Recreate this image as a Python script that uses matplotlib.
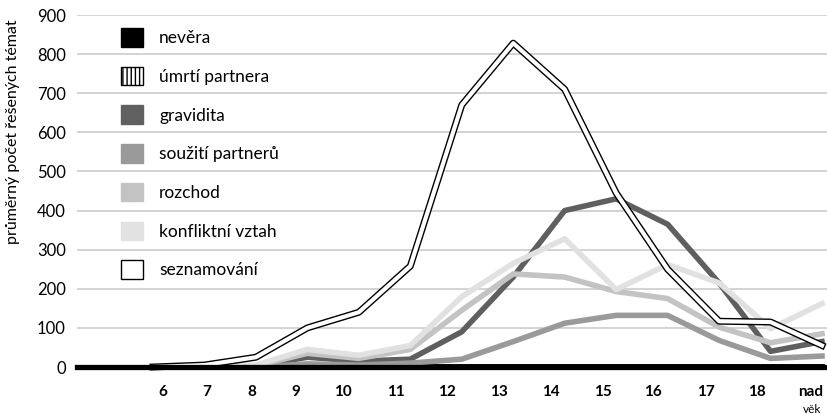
import matplotlib
matplotlib.use("Agg")
import matplotlib.pyplot as plt
from matplotlib.patches import Patch

# ---------------------------
# Data
# ---------------------------
ages = ['6', '7', '8', '9', '10', '11', '12', '13', '14', '15', '16', '17', '18', 'nad']
nevera = [0, 0, 0, 0, 0, 0, 0, 0, 0, 0, 0, 0, 0, 0]
umrti = [0, 0, 0, 0, 0, 0, 0, 0, 0, 0, 0, 0, 0, 0]
gravidita = [0, 0, 2, 25, 15, 20, 90, 230, 400, 430, 365, 215, 40, 65]
souziti = [0, 0, 0, 8, 5, 10, 20, 65, 112, 132, 132, 68, 22, 28]
rozchod = [0, 0, 3, 35, 22, 45, 145, 238, 230, 193, 175, 102, 62, 85]
konflikt = [0, 2, 5, 45, 30, 55, 180, 265, 328, 198, 262, 215, 98, 162]
seznam = [0, 5, 25, 100, 140, 258, 670, 828, 710, 445, 250, 117, 115, 55]

series_names = ['nevěra', 'úmrtí partnera', 'gravidita', 'soužití partnerů',
                'rozchod', 'konfliktní vztah', 'seznamování']

# label positions in the original are a bit off from the points
label_pos = [0.19, 1.05, 1.92, 2.78, 3.69, 4.72, 5.71, 6.72, 7.73, 8.74, 9.71, 10.74, 11.73, 12.78]

plt.rcParams['font.family'] = ['Lato', 'DejaVu Sans']

fig = plt.figure(figsize=(8.27, 4.15), dpi=100)
ax = fig.add_axes([77 / 827, 48 / 415, 750 / 827, 352 / 415])

x = list(range(len(ages)))

# ---------------------------
# Lines
# ---------------------------
ax.plot(x, nevera, color='black', lw=4, clip_on=False, zorder=3)
ax.plot(x, umrti, color='black', lw=4, clip_on=False, zorder=3)
ax.plot(x, gravidita, color='#5f5f5f', lw=4, clip_on=False, zorder=3)
ax.plot(x, souziti, color='#9a9a9a', lw=4, clip_on=False, zorder=3)
ax.plot(x, rozchod, color='#c3c3c3', lw=4, clip_on=False, zorder=3)
ax.plot(x, konflikt, color='#e1e1e1', lw=4, clip_on=False, zorder=3)
# double line: black outline with white core
ax.plot(x, seznam, color='black', lw=5, clip_on=False, zorder=4)
ax.plot(x, seznam, color='white', lw=3.0, clip_on=False, zorder=5)

# thick base line at zero
ax.axhline(0, color='black', lw=3.8, zorder=6, clip_on=False)

# ---------------------------
# Axes styling
# ---------------------------
ax.set_xlim(-1.477, 13.097)
ax.set_ylim(0, 900)
ax.set_yticks(range(0, 1000, 100))
ax.yaxis.grid(True, color='#c8c8c8', lw=1.1)
ax.set_axisbelow(True)
for s in ax.spines.values():
    s.set_visible(False)
ax.tick_params(axis='y', length=0, pad=8, labelsize=12)
ax.set_xticks(label_pos, ages)
ax.tick_params(axis='x', length=0, pad=13, labelsize=11)
for t in ax.get_xticklabels():
    t.set_fontweight('bold')

fig.text(13 / 827, 1 - 132 / 415, 'průměrný počet řešených témat', rotation=90,
         ha='center', va='center', fontsize=11.5)
fig.text(812 / 827, 1 - 409 / 415, 'věk', ha='center', va='center', fontsize=8.5)

# ---------------------------
# Legend
# ---------------------------
handles = [
    Patch(facecolor='black', edgecolor='black'),
    Patch(facecolor='white', edgecolor='black', hatch='||||'),
    Patch(facecolor='#606060', edgecolor='#606060'),
    Patch(facecolor='#9a9a9a', edgecolor='#9a9a9a'),
    Patch(facecolor='#c3c3c3', edgecolor='#c3c3c3'),
    Patch(facecolor='#e2e2e2', edgecolor='#e2e2e2'),
    Patch(facecolor='white', edgecolor='black'),
]
fig.legend(handles, series_names, loc='upper left',
           bbox_to_anchor=(121 / 827, 1 - 28 / 415), frameon=False,
           fontsize=12.5, handlelength=1.27, handleheight=1.27,
           labelspacing=1.16, handletextpad=0.92, borderpad=0, borderaxespad=0)

fig.savefig('out.png', dpi=100)
